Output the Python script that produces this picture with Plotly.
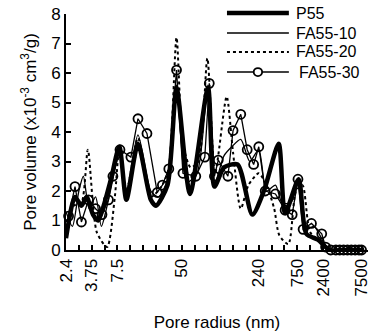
import plotly.graph_objects as go

# x positions are in units of the evenly spaced x-axis bins (0 = 2.4 nm ... 23 = 7500 nm)
tick_vals = [0, 2, 4, 9, 15, 18, 20, 23]
tick_text = ["2.4", "3.75", "7.5", "50", "240", "750", "2400", "7500"]

p55_x = [0, 0.7, 1.2, 1.6, 2.1, 2.5, 2.9, 3.5, 4.15, 4.7, 5.6, 6.6, 7.0, 7.9, 8.6, 9.65,
         11.05, 11.55, 12.3, 13.35, 14.5, 15.4, 16.55, 17.05, 18.1, 18.7, 19.6, 20.5, 21.5, 22.5, 23]
p55_y = [0.4, 1.8, 1.5, 1.8, 1.2, 1.0, 1.45, 2.4, 3.5, 1.7, 3.6, 1.7, 1.5, 2.2, 5.5, 1.9,
         5.5, 2.15, 2.8, 2.9, 1.2, 2.0, 3.6, 1.25, 2.4, 0.55, 0.35, 0.0, 0.0, 0.0, 0.0]

fa10_x = [0, 0.5, 1.0, 1.35, 1.8, 2.3, 2.75, 3.2, 3.6, 4.15, 4.7, 5.6, 6.6, 7.2, 8.0, 8.6,
          9.4, 10.2, 11.05, 11.6, 12.3, 12.9, 13.6, 14.3, 15.0, 15.6, 16.3, 16.8, 17.5, 18.1,
          18.6, 19.3, 20.0, 20.5, 21.5, 23]
fa10_y = [1.3, 0.8, 2.0, 2.5, 1.4, 1.8, 0.8, 1.5, 2.3, 3.4, 2.0, 3.9, 2.0, 1.8, 2.5, 5.6,
          2.3, 2.6, 5.6, 2.3, 3.2, 3.5, 3.75, 3.0, 3.4, 2.0, 2.2, 1.6, 1.6, 2.3,
          0.7, 0.8, 0.3, 0.0, 0.0, 0.0]

fa20_x = [0, 0.6, 1.2, 1.7, 2.4, 3.2, 3.8, 4.15, 4.7, 5.6, 6.6, 7.5, 8.0, 8.6, 9.1, 9.7,
          10.3, 11.0, 11.6, 12.5, 13.0, 13.6, 14.2, 15.0, 15.6, 16.2, 16.6, 17.3, 17.9, 18.4,
          19.0, 19.8, 20.5, 21.5, 23]
fa20_y = [0.5, 1.5, 1.6, 3.4, 0.6, 0.1, 1.8, 3.4, 2.0, 3.8, 1.8, 2.2, 2.8, 7.2, 3.6, 2.8,
          3.0, 6.5, 2.6, 5.2, 3.3, 1.4, 2.2, 2.6, 2.2, 1.4, 0.5, 0.2, 2.0, 2.2,
          0.6, 0.3, 0.0, 0.0, 0.0]

fa30_x = [0.2, 0.7, 1.2, 1.75, 2.3, 2.8, 3.3, 3.65, 4.2, 5.05, 5.6, 6.3, 7.1, 7.5, 8.0, 8.6,
          9.1, 10.1, 10.8, 11.15, 11.55, 11.85, 12.6, 13.0, 13.6, 14.1, 14.6, 15.0, 15.5, 16.3,
          17.05, 17.6, 18.05, 18.45, 19.1, 19.9, 20.2, 20.6, 21.0, 21.3, 21.6, 21.9, 22.2,
          22.5, 22.8, 23.0]
fa30_y = [1.15, 2.15, 0.95, 1.7, 1.4, 1.2, 1.7, 2.5, 3.4, 3.15, 4.45, 3.95, 1.95, 2.2, 2.75, 6.1,
          2.6, 2.5, 3.15, 5.65, 2.5, 3.05, 2.5, 4.05, 4.6, 3.4, 2.9, 3.5, 2.0, 1.9,
          1.35, 1.2, 2.4, 0.7, 0.9, 0.55, 0.1, 0.0, 0.0, 0.0, 0.0, 0.0, 0.0,
          0.0, 0.0, 0.0]

FONT = "Liberation Sans, Arial, sans-serif"

fig = go.Figure()
fig.add_trace(go.Scatter(x=fa20_x, y=fa20_y, mode="lines", name="FA55-20",
                         line=dict(color="black", width=2, dash="dot", shape="spline", smoothing=0.7),
                         cliponaxis=False))
fig.add_trace(go.Scatter(x=fa10_x, y=fa10_y, mode="lines", name="FA55-10",
                         line=dict(color="black", width=1.3, shape="spline", smoothing=0.7),
                         cliponaxis=False))
fig.add_trace(go.Scatter(x=fa30_x, y=fa30_y, mode="lines+markers", name="FA55-30",
                         line=dict(color="black", width=1.3),
                         marker=dict(symbol="circle-open", size=9, color="black", line=dict(width=1.8)),
                         cliponaxis=False))
fig.add_trace(go.Scatter(x=p55_x, y=p55_y, mode="lines", name="P55",
                         line=dict(color="black", width=4.5, shape="spline", smoothing=0.7),
                         cliponaxis=False))

# manual legend (long line samples)
legend_items = [("P55", 4.5, "solid", False, 1.004),
                ("FA55-10", 1.5, "solid", False, 0.919),
                ("FA55-20", 2, "dot", False, 0.839),
                ("FA55-30", 1.5, "solid", True, 0.754)]
x0, x1, xt = 0.533, 0.738, 0.754
for name, w, dash, mk, yy in legend_items:
    fig.add_shape(type="line", xref="paper", yref="paper", x0=x0, x1=x1, y0=yy, y1=yy,
                  line=dict(color="black", width=w, dash=dash))
    if mk:
        cx = (x0 + x1) / 2
        fig.add_shape(type="circle", xref="paper", yref="paper",
                      x0=cx - 0.014, x1=cx + 0.014, y0=yy - 0.017, y1=yy + 0.017,
                      line=dict(color="black", width=1.8), fillcolor="white")
    fig.add_annotation(xref="paper", yref="paper", x=xt + (0.012 if mk else 0), y=yy,
                       text=name, showarrow=False, xanchor="left", yanchor="middle",
                       font=dict(family=FONT, size=16, color="black"))

fig.update_layout(
    width=372, height=332,
    margin=dict(l=66, r=4, t=14, b=82, autoexpand=False),
    paper_bgcolor="white", plot_bgcolor="white",
    showlegend=False,
    font=dict(family=FONT, size=17, color="black"),
)
fig.update_xaxes(
    range=[0, 23.5], tickmode="array", tickvals=tick_vals, ticktext=tick_text,
    tickangle=-90, ticks="inside", ticklen=5, tickwidth=1.5, tickcolor="black",
    minor=dict(dtick=1, tick0=0, ticks="inside", ticklen=5, tickwidth=1.5, tickcolor="black"),
    ticklabeloverflow="allow", automargin=False,
    showline=True, linewidth=2, linecolor="black", showgrid=False, zeroline=False,
    tickfont=dict(size=17),
    title=dict(text="Pore radius (nm)", font=dict(size=17), standoff=20),
)
fig.update_yaxes(
    range=[0, 8], dtick=1, ticks="inside", ticklen=5, tickwidth=1.5, tickcolor="black",
    showline=True, linewidth=2, linecolor="black", showgrid=False, zeroline=False,
    tickfont=dict(size=17), automargin=False,
    title=dict(text="Pore volume (x10<sup>-3</sup> cm<sup>3</sup>/g)", font=dict(size=17), standoff=10),
)

fig.write_html("out.html")
